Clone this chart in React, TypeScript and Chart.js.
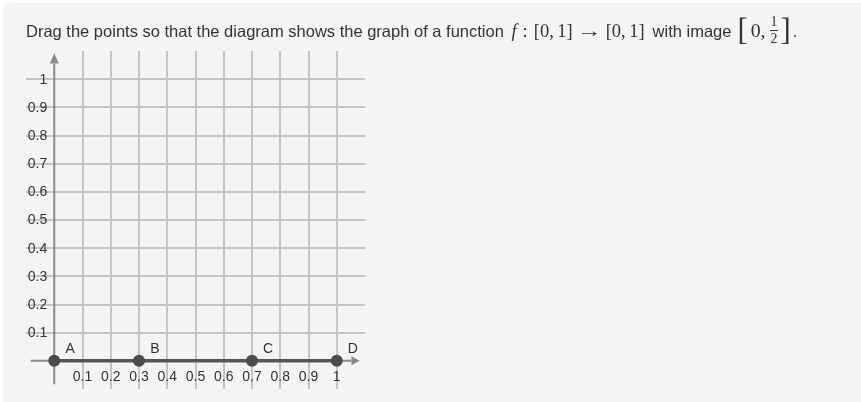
import React, { useEffect, useRef } from "react";
import { Chart, registerables } from "chart.js";

Chart.register(...registerables);

// Draggable points of the piecewise-linear graph
const pointNames = ["A", "B", "C", "D"];
const pointX = [0, 0.3, 0.7, 1];
const pointY = [0, 0, 0, 0];

// Tick labels shown along each axis
const xTickValues = [0.1, 0.2, 0.3, 0.4, 0.5, 0.6, 0.7, 0.8, 0.9, 1];
const xTickLabels = ["0.1", "0.2", "0.3", "0.4", "0.5", "0.6", "0.7", "0.8", "0.9", "1"];
const yTickValues = [0.1, 0.2, 0.3, 0.4, 0.5, 0.6, 0.7, 0.8, 0.9, 1];
const yTickLabels = ["0.1", "0.2", "0.3", "0.4", "0.5", "0.6", "0.7", "0.8", "0.9", "1"];

const AXIS_MIN = -0.1;
const AXIS_MAX = 1.1;

const isGridValue = (v: number) => {
  const r = Math.round(v * 10) / 10;
  return r >= 0.1 - 1e-9 && r <= 1 + 1e-9;
};

const LABEL_FONT = "14px 'Liberation Sans', Arial, sans-serif";

const axesPlugin = {
  id: "graphAxes",
  beforeDatasetsDraw(chart: any) {
    const { ctx } = chart;
    const xs = chart.scales.x;
    const ys = chart.scales.y;
    const x0 = xs.getPixelForValue(0);
    const y0 = ys.getPixelForValue(0);
    ctx.save();
    ctx.strokeStyle = "#8a8a8a";
    ctx.fillStyle = "#8a8a8a";
    ctx.lineWidth = 2;

    // horizontal axis with arrow head
    const xStart = xs.getPixelForValue(-0.083);
    const xTip = xs.getPixelForValue(1.081);
    const xBase = xs.getPixelForValue(1.052);
    ctx.beginPath();
    ctx.moveTo(xStart, y0);
    ctx.lineTo(xBase, y0);
    ctx.stroke();
    ctx.beginPath();
    ctx.moveTo(xTip, y0);
    ctx.lineTo(xBase, y0 - 4.5);
    ctx.lineTo(xBase, y0 + 4.5);
    ctx.closePath();
    ctx.fill();

    // vertical axis with arrow head
    const yStart = ys.getPixelForValue(-0.083);
    const yTip = ys.getPixelForValue(1.092);
    const yBase = ys.getPixelForValue(1.056);
    ctx.beginPath();
    ctx.moveTo(x0, yStart);
    ctx.lineTo(x0, yBase);
    ctx.stroke();
    ctx.beginPath();
    ctx.moveTo(x0, yTip);
    ctx.lineTo(x0 - 4.5, yBase);
    ctx.lineTo(x0 + 4.5, yBase);
    ctx.closePath();
    ctx.fill();

    // tick labels
    ctx.fillStyle = "#333333";
    ctx.font = LABEL_FONT;
    ctx.textBaseline = "middle";
    ctx.textAlign = "right";
    yTickValues.forEach((v, i) => {
      ctx.fillText(yTickLabels[i], x0 - 7, ys.getPixelForValue(v) + 0.5);
    });
    ctx.textAlign = "center";
    xTickValues.forEach((v, i) => {
      ctx.fillText(xTickLabels[i], xs.getPixelForValue(v), y0 + 16);
    });
    ctx.restore();
  },
  afterDatasetsDraw(chart: any) {
    const { ctx } = chart;
    const xs = chart.scales.x;
    const ys = chart.scales.y;
    ctx.save();
    ctx.fillStyle = "#333333";
    ctx.font = LABEL_FONT;
    ctx.textAlign = "center";
    ctx.textBaseline = "middle";
    pointNames.forEach((name, i) => {
      ctx.fillText(name, xs.getPixelForValue(pointX[i]) + 16, ys.getPixelForValue(pointY[i]) - 12);
    });
    ctx.restore();
  },
};

function GraphChart() {
  const canvasRef = useRef<HTMLCanvasElement | null>(null);

  useEffect(() => {
    if (!canvasRef.current) return;
    const data = pointX.map((x, i) => ({ x, y: pointY[i] }));
    const gridColor = (ctx: any) => (isGridValue(ctx.tick.value) ? "#c4c4c4" : "rgba(0,0,0,0)");
    const chart = new Chart(canvasRef.current, {
      type: "scatter",
      data: {
        datasets: [
          {
            data,
            showLine: true,
            borderColor: "#555555",
            borderWidth: 3.5,
            backgroundColor: "#4b4b4b",
            pointBackgroundColor: "#4b4b4b",
            pointBorderWidth: 0,
            pointRadius: 6,
            pointHoverRadius: 6,
          },
        ],
      },
      options: {
        animation: false,
        responsive: false,
        events: [],
        layout: { padding: { left: 26, right: 496, top: 51, bottom: 13 } },
        plugins: { legend: { display: false }, tooltip: { enabled: false } },
        scales: {
          x: {
            type: "linear",
            min: AXIS_MIN,
            max: AXIS_MAX,
            ticks: { display: false, stepSize: 0.1 },
            border: { display: false },
            grid: { color: gridColor, lineWidth: 2, drawTicks: false },
          },
          y: {
            type: "linear",
            min: AXIS_MIN,
            max: AXIS_MAX,
            ticks: { display: false, stepSize: 0.1 },
            border: { display: false },
            grid: { color: gridColor, lineWidth: 2, drawTicks: false },
          },
        },
      },
      plugins: [axesPlugin],
    });
    return () => chart.destroy();
  }, []);

  return (
    <canvas
      ref={canvasRef}
      width={861}
      height={402}
      style={{ position: "absolute", left: 0, top: 0, width: 861, height: 402 }}
    />
  );
}

const mathStyle: React.CSSProperties = {
  fontFamily: "'Liberation Serif', 'DejaVu Serif', serif",
  fontSize: "1.12em",
};

const bigBracket: React.CSSProperties = {
  display: "inline-block",
  fontSize: "1.55em",
  verticalAlign: "-0.1em",
  lineHeight: "1em",
};

const interval = (
  <span>
    [0,<span style={{ marginLeft: 3.5 }}>1</span>]
  </span>
);

function Prompt() {
  return (
    <div
      style={{
        position: "absolute",
        left: 26,
        top: 15,
        fontFamily: "'Liberation Sans', Arial, sans-serif",
        fontSize: 16.5,
        color: "#333333",
        whiteSpace: "nowrap",
        lineHeight: "24px",
        zIndex: 1,
      }}
    >
      Drag the points so that the diagram shows the graph of a function{" "}
      <span style={{ ...mathStyle, marginLeft: 3 }}>
        <i>f</i>
        <span style={{ display: "inline-block", margin: "0 6px" }}>:</span>
        {interval}
        <span
          style={{
            display: "inline-block",
            width: 20,
            margin: "0 7px 0 6px",
            textAlign: "center",
            transform: "scaleX(1.35)",
          }}
        >
          →
        </span>
        {interval}
      </span>
      <span style={{ marginLeft: 8 }}>with image</span>
      <span style={{ ...mathStyle, fontSize: "1.2em", marginLeft: 6 }}>
        <span style={{ ...bigBracket, marginRight: 3 }}>[</span>
        0,
        <span
          style={{
            display: "inline-block",
            textAlign: "center",
            fontSize: "0.7em",
            lineHeight: "1em",
            verticalAlign: "-0.42em",
            margin: "0 2px 0 4px",
          }}
        >
          <span style={{ display: "block", borderBottom: "1px solid #333", padding: "0 1px 1px" }}>1</span>
          <span style={{ display: "block", paddingTop: 1 }}>2</span>
        </span>
        <span style={bigBracket}>]</span>
      </span>
      <span style={{ marginLeft: 2 }}>.</span>
    </div>
  );
}

export default function App() {
  return (
    <div style={{ position: "fixed", left: 0, top: 0, width: 861, height: 402, background: "#ffffff" }}>
      <div
        style={{
          position: "absolute",
          left: 3,
          top: 3,
          width: 870,
          height: 410,
          background: "#f3f4f4",
          borderRadius: 6,
        }}
      />
      <GraphChart />
      <Prompt />
    </div>
  );
}
